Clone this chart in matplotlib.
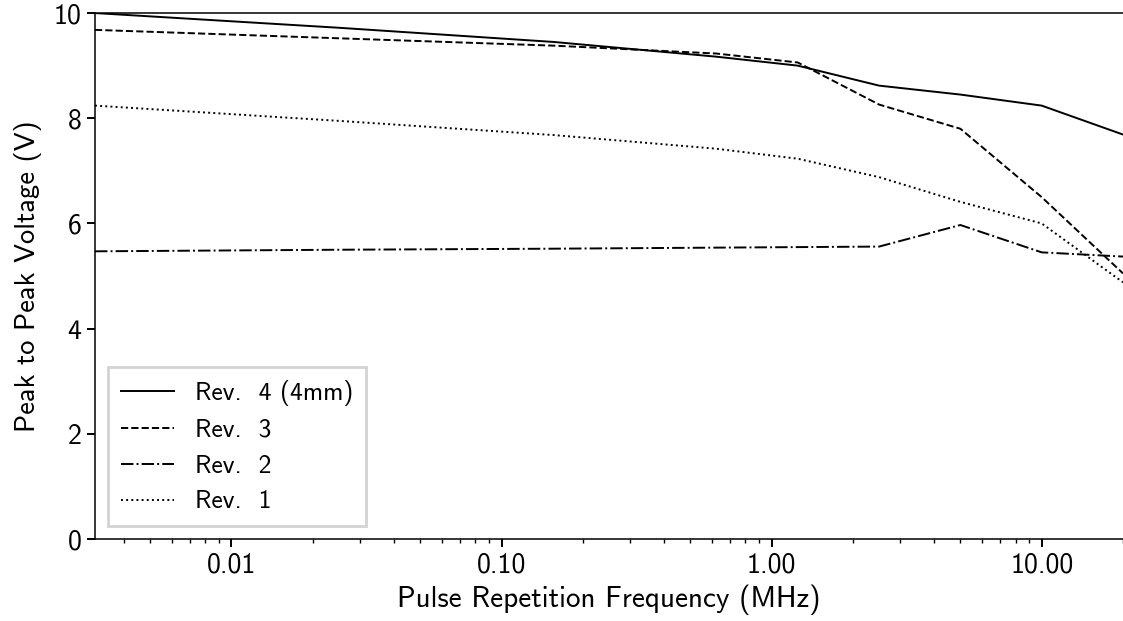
import matplotlib
matplotlib.use("Agg")
import matplotlib.pyplot as plt
from matplotlib.ticker import FormatStrFormatter

plt.rcParams['font.family'] = ['cmss10', 'DejaVu Sans']
plt.rcParams['axes.formatter.use_mathtext'] = True

# Pulse repetition frequency (MHz) and peak-to-peak voltage (V)
freq = [0.003125, 0.025, 0.15625, 0.625, 1.25, 2.5, 5.0, 10.0, 20.0]
rev4 = [10.0, 9.72, 9.45, 9.17, 9.0, 8.62, 8.45, 8.24, 7.69]
rev3 = [9.68, 9.52, 9.38, 9.23, 9.06, 8.26, 7.80, 6.50, 5.05]
rev2 = [5.47, 5.50, 5.52, 5.54, 5.55, 5.56, 5.97, 5.45, 5.37]
rev1 = [8.24, 7.95, 7.68, 7.42, 7.23, 6.88, 6.41, 6.00, 4.88]

fig = plt.figure(figsize=(11.23, 6.21), dpi=100)
ax = fig.add_axes([0.0846, 0.132, 0.9154, 0.847])

ax.plot(freq, rev4, color='black', linestyle='-', lw=1.4, label='Rev.  4 (4mm)')
ax.plot(freq, rev3, color='black', linestyle='--', lw=1.4, label='Rev.  3')
ax.plot(freq, rev2, color='black', linestyle='-.', lw=1.4, label='Rev.  2')
ax.plot(freq, rev1, color='black', linestyle=':', lw=1.4, label='Rev.  1')

ax.set_xscale('log')
ax.set_xlim(0.003125, 20)
ax.set_ylim(0, 10)
ax.xaxis.set_major_formatter(FormatStrFormatter('%.2f'))
ax.set_yticks([0, 2, 4, 6, 8, 10])

ax.spines['right'].set_visible(False)
for s in ['left', 'bottom', 'top']:
    ax.spines[s].set_linewidth(1.1)
ax.tick_params(which='major', labelsize=20, length=6, width=1.4)
ax.tick_params(which='minor', length=3, width=1.0)

ax.set_xlabel('Pulse Repetition Frequency (MHz)', fontsize=21, labelpad=5)
ax.set_ylabel('Peak to Peak Voltage (V)', fontsize=20.5, labelpad=8)

leg = ax.legend(loc='lower left', fontsize=18.4, fancybox=False, framealpha=1,
                edgecolor='lightgray', borderpad=0.5, handlelength=2.1,
                handletextpad=0.8)
leg.get_frame().set_linewidth(2)

fig.savefig('out.png', dpi=100)
